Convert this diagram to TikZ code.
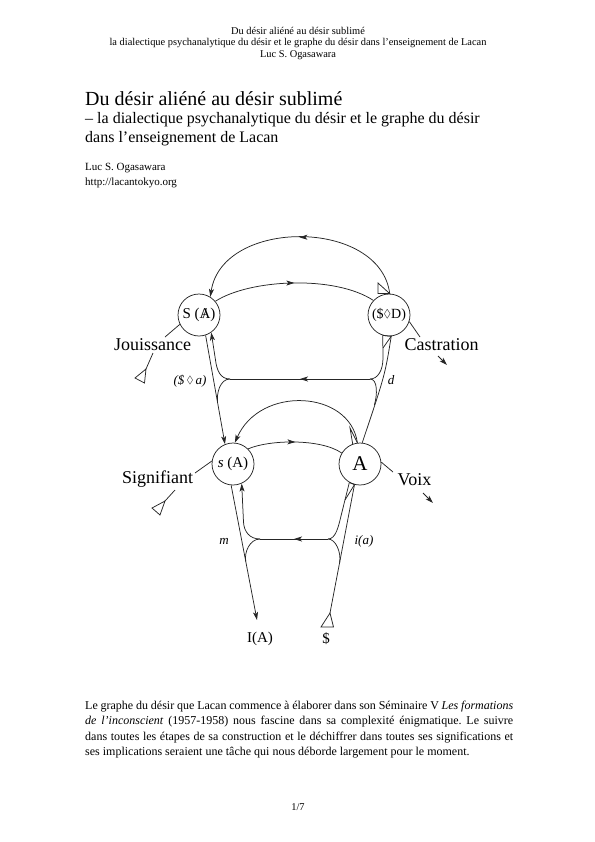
\documentclass[tikz,border=0pt]{standalone}
\usepackage{fontspec}
\setmainfont{Liberation Serif}
\usepackage{amssymb}
\usepackage{graphicx}
\usetikzlibrary{arrows.meta,decorations.markings,calc}
\newcommand{\barA}{\ooalign{A\cr\hidewidth/\hidewidth}}
\newcommand{\dmd}{\raisebox{0.15ex}{\scalebox{0.8}{$\Diamond$}}}
\newcommand{\fsz}[1]{\fontsize{#1bp}{#1bp}\selectfont}
\frenchspacing
\begin{document}
\begin{tikzpicture}[x=1bp,y=-1bp,
  ln/.style={line width=0.75bp,draw=black!85},
  endarrow/.style={-{Stealth[length=8bp,width=5bp,inset=2bp]}},
  midarrow/.style={postaction={decorate,decoration={markings,mark=at position #1 with {\arrow{Stealth[length=8bp,width=5bp,inset=2bp]}}}}},
  nd/.style={circle,draw=black!85,line width=0.75bp,minimum size=42bp,inner sep=0pt},
  labsty/.style={font=\fsz{18},inner sep=0pt},
  smlab/.style={font=\fsz{13}\itshape,inner sep=0pt},
  hdr/.style={font=\fsz{10.4},inner sep=0pt,anchor=base},
  ttl/.style={inner sep=0pt,anchor=base west}
]
\useasboundingbox (0,0) rectangle (595,842);

% header
\node[hdr] (h1) at (298,34) {Du désir aliéné au désir sublimé};
\node[hdr] (h2) at (298,45.5) {la dialectique psychanalytique du désir et le graphe du désir dans l’enseignement de Lacan};
\node[hdr] (h3) at (298,57) {Luc S. Ogasawara};

% title block
\node[ttl,font=\fsz{20}] (t1) at (85,105) {Du désir aliéné au désir sublimé};
\node[ttl,font=\fsz{16}] (t2) at (85,123) {– la dialectique psychanalytique du désir et le graphe du désir};
\node[ttl,font=\fsz{16}] (t3) at (85,142) {dans l’enseignement de Lacan};
\node[ttl,font=\fsz{11}] (au) at (85,170) {Luc S. Ogasawara};
\node[ttl,font=\fsz{11}] (url) at (85,185) {http://lacantokyo.org};

% circles
\node[nd,font=\fsz{15}] (SA) at (199,315) {S (\barA)};
\node[nd,font=\fsz{14}] (SD) at (389,315) {(\$\dmd D)};
\node[nd,font=\fsz{15}] (sA) at (233,464) {\textit{s} (A)};
\node[nd,font=\fsz{21}] (A) at (360,464) {A};

% labels
\node[labsty] (jou) at (152.5,345) {Jouissance};
\node[labsty] (cas) at (441.5,345) {Castration};
\node[labsty] (sig) at (157.5,479) {Signifiant};
\node[labsty] (voi) at (414.5,480) {Voix};
\node[smlab] (sda) at (190,381) {(\$\,\dmd\,\textit{a})};
\node[smlab] (dl) at (391,380) {d};
\node[smlab] (ml) at (224,541) {m};
\node[smlab] (ial) at (364,541) {i(a)};
\node[font=\fsz{15},inner sep=0pt] (IA) at (260,639) {I(A)};
\node[font=\fsz{15},inner sep=0pt] (Sb) at (326,639) {\$};

% free-end coordinates
\coordinate (cL) at (230,379);
\coordinate (cR) at (370,379);
\coordinate (cL2) at (260,539);
\coordinate (cR2) at (328,539);
\coordinate (jA) at (165,337);
\coordinate (jB) at (153,353);
\coordinate (jT) at (146,369);
\coordinate (caA) at (420,337);
\coordinate (caB) at (438,356);
\coordinate (caC) at (447,365);
\coordinate (sgA) at (195,473);
\coordinate (sgB) at (175,490);
\coordinate (sgT) at (165,501);
\coordinate (vA) at (393,472);
\coordinate (vB) at (423,493);
\coordinate (vC) at (433,503);
\coordinate (iaT) at (257,620);
\coordinate (dT) at (330,613);

% top arcs
\draw[ln,endarrow,midarrow=0.5] (SD.88) .. controls (380,218) and (222,218) .. (SA.58);
\draw[ln] (SD.88) -- (378,283) -- (378,293.5) -- cycle;
\draw[ln,midarrow=0.5] (SA.40) .. controls (250,279) and (335,275) .. (SD.137);

% Jouissance / Castration
\draw[ln] (SA.206) -- (jA);
\draw[ln] (jB) -- (jT);
\draw[ln] (jT) -- (135,378) -- (144.5,383) -- cycle;
\draw[ln] (SD.-18) -- (caA);
\draw[ln,endarrow] (caB) -- (caC);

% upper left double line
\draw[ln,endarrow] (SA.-72) -- (sA.112);
\draw[ln,endarrow] (cL) .. controls (220,379) and (216.8,370) .. (215.5,360) -- (SA.-55);
\draw[ln] (cL) .. controls (220,379) and (216.3,393.3) .. ($(SA.-72)!0.62!(sA.112)$);
\draw[ln,midarrow=0.5] (cR) -- (cL);

% upper right double line
\draw[ln] (SD.-84) .. controls (385,375) .. (A.84);
\draw[ln] (cR) .. controls (378,379) and (383,370) .. (383,358) -- (SD.-107);
\draw[ln] (SD.-107) -- (SD.-84) -- (383,348);
\draw[ln] (cR) .. controls (378,379) and (377.3,395.3) .. (374.4,404.9);

% middle arcs
\draw[ln,endarrow] (A.97) .. controls (350,390) and (260,385) .. (sA.85);
\draw[ln] (A.97) -- (350,428) -- (A.110);
\draw[ln,midarrow=0.5] (sA.45) .. controls (268,440) and (320,438) .. (A.149);

% Signifiant / Voix
\draw[ln] (sA.172) -- (sgA);
\draw[ln] (sgB) -- (sgT);
\draw[ln] (sgT) -- (152,508) -- (160,515) -- cycle;
\draw[ln] (A.5) -- (vA);
\draw[ln,endarrow] (vB) -- (vC);

% lower left
\draw[ln,endarrow] (sA.-95) -- (iaT);
\draw[ln,endarrow] (cL2) .. controls (250,539) and (244,532) .. (243.5,522) -- (sA.-66);
\draw[ln] (cL2) .. controls (250,539) and (243.9,552) .. ($(sA.-95)!0.567!(iaT)$);
\draw[ln,midarrow=0.5] (cR2) -- (cL2);

% lower right
\draw[ln] (A.-105) -- (dT);
\draw[ln] (cR2) .. controls (336,539) and (338.5,526) .. (341,516) -- (A.-120);
\draw[ln] (A.-120) -- (A.-105) -- (345,500);
\draw[ln] (cR2) .. controls (336,539) and (341.4,553) .. ($(A.-105)!0.607!(dT)$);
\draw[ln] (dT) -- (321,627) -- (333.5,627) -- cycle;

% body text
\node[anchor=base west,inner sep=0pt,text width=428bp,align=justify,font=\fontsize{12bp}{15.5bp}\selectfont] (body) at (85,709)
{Le graphe du désir que Lacan commence à élaborer dans son Séminaire V \textit{Les formations}\linebreak
\textit{de l’inconscient} (1957-1958) nous fascine dans sa complexité énigmatique. Le suivre\linebreak
dans toutes les étapes de sa construction et le déchiffrer dans toutes ses significations et\linebreak
ses implications seraient une tâche qui nous déborde largement pour le moment.};

\node[hdr] (pg) at (298,810) {1/7};
\end{tikzpicture}
\end{document}
